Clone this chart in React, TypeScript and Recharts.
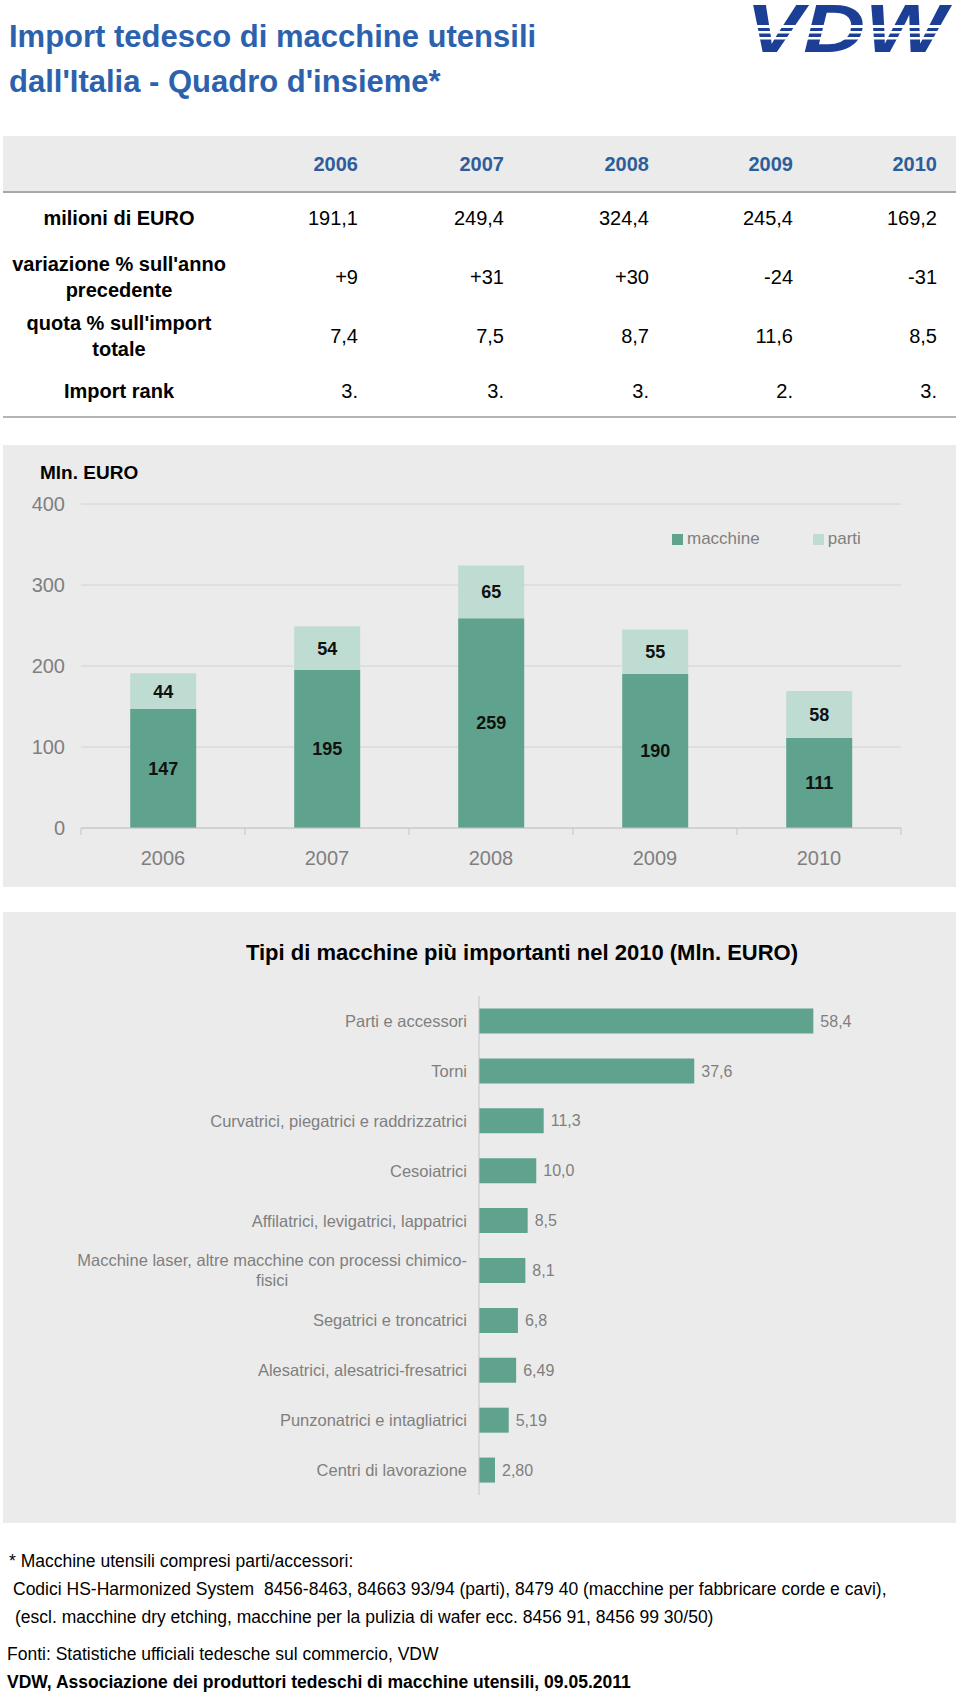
import React from 'react';
import { BarChart, Bar, XAxis, YAxis, CartesianGrid, LabelList, Legend } from 'recharts';

const FONT = "'Liberation Sans', Arial, Helvetica, sans-serif";

// tabella riassuntiva
const years = ['2006', '2007', '2008', '2009', '2010'];
const milioniEuro = ['191,1', '249,4', '324,4', '245,4', '169,2'];
const variazione = ['+9', '+31', '+30', '-24', '-31'];
const quota = ['7,4', '7,5', '8,7', '11,6', '8,5'];
const importRank = ['3.', '3.', '3.', '2.', '3.'];

// grafico a colonne (Mln. EURO)
const macchine = [147, 195, 259, 190, 111];
const parti = [44, 54, 65, 55, 58];
const yTicks = [0, 100, 200, 300, 400];

// tipi di macchine 2010
const tipi = [
  'Parti e accessori',
  'Torni',
  'Curvatrici, piegatrici e raddrizzatrici',
  'Cesoiatrici',
  'Affilatrici, levigatrici, lappatrici',
  'Macchine laser, altre macchine con processi chimico-fisici',
  'Segatrici e troncatrici',
  'Alesatrici, alesatrici-fresatrici',
  'Punzonatrici e intagliatrici',
  'Centri di lavorazione',
];
const tipiValori = [58.4, 37.6, 11.3, 10.0, 8.5, 8.1, 6.8, 6.49, 5.19, 2.8];
const tipiEtichette = ['58,4', '37,6', '11,3', '10,0', '8,5', '8,1', '6,8', '6,49', '5,19', '2,80'];

const colData = years.map((y, i) => ({ year: y, macchine: macchine[i], parti: parti[i] }));
const tipiData = tipi.map((t, i) => ({ name: t, value: tipiValori[i], label: tipiEtichette[i] }));

const GREEN = '#5fa38e';
const LIGHT = '#bfdcd2';
const PANEL = '#ebebeb';
const GREY_TXT = '#7f7f7f';

const colRight = [358, 504, 649, 793, 937];

let ctx: CanvasRenderingContext2D | null = null;
const measure = (s: string, font: string) => {
  if (!ctx) ctx = document.createElement('canvas').getContext('2d');
  if (!ctx) return s.length * 7.5;
  ctx.font = font;
  return ctx.measureText(s).width;
};

const CAT_FONT = 16.5;
const wrapLabel = (s: string, maxW: number) => {
  const parts = s.match(/[^\s-]+-?|\s+/g) || [s];
  const lines: string[] = [];
  let cur = '';
  parts.forEach((p) => {
    const test = cur + p;
    if (cur.trim() && measure(test.trim(), `${CAT_FONT}px ${FONT}`) > maxW) {
      lines.push(cur.trim());
      cur = p.trim() ? p : '';
    } else {
      cur = test;
    }
  });
  if (cur.trim()) lines.push(cur.trim());
  return lines;
};

const Txt = ({ x, y, w, align, size, bold, color, children }: any) => {
  const left = align === 'right' ? x - w : align === 'center' ? x - w / 2 : x;
  return (
    <div
      style={{
        position: 'absolute',
        left,
        top: y - size / 2,
        width: w,
        textAlign: align,
        fontSize: size,
        lineHeight: `${size}px`,
        fontWeight: bold ? 'bold' : 'normal',
        color: color || '#000',
        whiteSpace: 'nowrap',
      }}
    >
      {children}
    </div>
  );
};

const YearTick = (props: any) => {
  const { x, y, payload, index, visibleTicksCount, width } = props;
  const band = (width || 820) / (visibleTicksCount || 5);
  return (
    <g>
      <line x1={x - band / 2} x2={x - band / 2} y1={y} y2={y + 7} stroke="#c4c4c4" />
      {index === (visibleTicksCount || 5) - 1 && (
        <line x1={x + band / 2} x2={x + band / 2} y1={y} y2={y + 7} stroke="#c4c4c4" />
      )}
      <text x={x} y={y + 30} textAnchor="middle" dominantBaseline="central" fill={GREY_TXT} fontSize={20} fontFamily={FONT}>
        {payload.value}
      </text>
    </g>
  );
};

const CategoryTick = (props: any) => {
  const { x, y, payload } = props;
  const lines = wrapLabel(String(payload.value), 400);
  const maxW = Math.max(...lines.map((l) => measure(l, `${CAT_FONT}px ${FONT}`)));
  const lh = 20;
  const y0 = y - ((lines.length - 1) * lh) / 2;
  return (
    <g>
      {lines.map((l, i) => (
        <text
          key={i}
          x={x - maxW / 2}
          y={y0 + i * lh}
          textAnchor="middle"
          dominantBaseline="central"
          fill={GREY_TXT}
          fontSize={CAT_FONT}
          fontFamily={FONT}
        >
          {l}
        </text>
      ))}
    </g>
  );
};

const LegendBox = () => (
  <div style={{ display: 'flex', alignItems: 'center', fontFamily: FONT, fontSize: 17, color: GREY_TXT, lineHeight: '20px' }}>
    <span style={{ width: 11, height: 11, background: GREEN, display: 'inline-block', marginRight: 4 }} />
    <span>macchine</span>
    <span style={{ width: 11, height: 11, background: LIGHT, display: 'inline-block', marginLeft: 53, marginRight: 4 }} />
    <span>parti</span>
  </div>
);

const Logo = () => (
  <svg width={216} height={56} style={{ position: 'absolute', left: 740, top: 0, overflow: 'visible' }}>
    <text
      x={6}
      y={52}
      fontFamily={FONT}
      fontWeight="bold"
      fontStyle="italic"
      fontSize={69}
      textLength={200}
      lengthAdjust="spacingAndGlyphs"
      fill="#1c3f96"
    >
      VDW
    </text>
    <rect x={0} y={25} width={216} height={3} fill="#fff" />
    <rect x={0} y={31} width={216} height={2.5} fill="#fff" />
    <rect x={0} y={37} width={216} height={2.5} fill="#fff" />
  </svg>
);

export default function App() {
  const rows = [
    { label: ['milioni di EURO'], values: milioniEuro, y: 218 },
    { label: ["variazione % sull'anno", 'precedente'], values: variazione, y: 277 },
    { label: ["quota % sull'import", 'totale'], values: quota, y: 336 },
    { label: ['Import rank'], values: importRank, y: 391 },
  ];

  return (
    <div
      style={{
        position: 'absolute',
        left: 0,
        top: 0,
        width: 960,
        height: 1696,
        background: '#fff',
        overflow: 'hidden',
        fontFamily: FONT,
      }}
    >
      {/* intestazione */}
      <Txt x={9} y={36} w={700} align="left" size={31} bold color="#2c62ad">
        Import tedesco di macchine utensili
      </Txt>
      <Txt x={9} y={81} w={700} align="left" size={31} bold color="#2c62ad">
        dall'Italia - Quadro d'insieme*
      </Txt>
      <Logo />

      {/* tabella */}
      <div style={{ position: 'absolute', left: 3, top: 136, width: 953, height: 55, background: PANEL }} />
      <div style={{ position: 'absolute', left: 3, top: 191, width: 953, height: 2, background: '#a8a8a8' }} />
      <div style={{ position: 'absolute', left: 3, top: 416, width: 953, height: 2, background: '#b4b4b4' }} />
      {years.map((yr, i) => (
        <Txt key={yr} x={colRight[i]} y={164} w={100} align="right" size={20} bold color="#2e5d9c">
          {yr}
        </Txt>
      ))}
      {rows.map((r) => (
        <React.Fragment key={r.label[0]}>
          {r.label.map((l, j) => (
            <Txt
              key={l}
              x={119}
              y={r.y + (j - (r.label.length - 1) / 2) * 26}
              w={240}
              align="center"
              size={20}
              bold
            >
              {l}
            </Txt>
          ))}
          {r.values.map((v, i) => (
            <Txt key={i} x={colRight[i]} y={r.y} w={100} align="right" size={20}>
              {v}
            </Txt>
          ))}
        </React.Fragment>
      ))}

      {/* grafico a colonne */}
      <div style={{ position: 'absolute', left: 3, top: 445, width: 953, height: 442, background: PANEL }}>
        <div style={{ position: 'absolute', left: 0, top: 0 }}>
          <BarChart
            width={953}
            height={442}
            data={colData}
            margin={{ top: 59, right: 55, left: 0, bottom: 0 }}
            barCategoryGap="30%"
          >
            <CartesianGrid horizontal vertical={false} stroke="#d2d2d2" />
            <XAxis
              dataKey="year"
              height={59}
              axisLine={{ stroke: '#c4c4c4' }}
              tickLine={false}
              tickSize={0}
              tickMargin={0}
              tick={<YearTick />}
              interval={0}
            />
            <YAxis
              width={78}
              domain={[0, 400]}
              ticks={yTicks}
              axisLine={false}
              tickLine={false}
              tickSize={6}
              tickMargin={10}
              tick={{ fill: GREY_TXT, fontSize: 20, fontFamily: FONT }}
            />
            <Legend
              layout="horizontal"
              verticalAlign="middle"
              align="center"
              wrapperStyle={{ position: 'absolute', left: 669, top: 84, width: 240, height: 20 }}
              content={<LegendBox />}
            />
            <Bar dataKey="macchine" stackId="a" fill={GREEN} isAnimationActive={false}>
              <LabelList dataKey="macchine" position="center" fill="#111" fontSize={18} fontWeight="bold" fontFamily={FONT} />
            </Bar>
            <Bar dataKey="parti" stackId="a" fill={LIGHT} isAnimationActive={false}>
              <LabelList dataKey="parti" position="center" fill="#111" fontSize={18} fontWeight="bold" fontFamily={FONT} />
            </Bar>
          </BarChart>
        </div>
      </div>
      <Txt x={40} y={472} w={200} align="left" size={19} bold>
        Mln. EURO
      </Txt>

      {/* tipi di macchine */}
      <div style={{ position: 'absolute', left: 3, top: 912, width: 953, height: 611, background: PANEL }}>
        <div style={{ position: 'absolute', left: 0, top: 0 }}>
          <BarChart
            width={953}
            height={611}
            data={tipiData}
            layout="vertical"
            margin={{ top: 84, right: 19, left: 0, bottom: 28 }}
            barCategoryGap="25%"
          >
            <XAxis type="number" domain={[0, 80]} hide />
            <YAxis
              type="category"
              dataKey="name"
              width={476}
              axisLine={{ stroke: '#c4c4c4' }}
              tickLine={false}
              tickSize={6}
              tickMargin={6}
              interval={0}
              tick={<CategoryTick />}
            />
            <Bar dataKey="value" fill={GREEN} isAnimationActive={false}>
              <LabelList dataKey="label" position="right" offset={7} fill={GREY_TXT} fontSize={16} fontFamily={FONT} />
            </Bar>
          </BarChart>
        </div>
      </div>
      <Txt x={522} y={953} w={700} align="center" size={22} bold>
        Tipi di macchine più importanti nel 2010 (Mln. EURO)
      </Txt>

      {/* note */}
      <Txt x={9} y={1562} w={940} align="left" size={17.5}>
        * Macchine utensili compresi parti/accessori:
      </Txt>
      <Txt x={13} y={1590} w={940} align="left" size={17.5}>
        {'Codici HS-Harmonized System\u00a0 8456-8463, 84663 93/94 (parti), 8479 40 (macchine per fabbricare corde e cavi),'}
      </Txt>
      <Txt x={15} y={1618} w={940} align="left" size={17.5}>
        (escl. macchine dry etching, macchine per la pulizia di wafer ecc. 8456 91, 8456 99 30/50)
      </Txt>
      <Txt x={7} y={1655} w={940} align="left" size={17.5}>
        Fonti: Statistiche ufficiali tedesche sul commercio, VDW
      </Txt>
      <Txt x={7} y={1683} w={940} align="left" size={17.5} bold>
        VDW, Associazione dei produttori tedeschi di macchine utensili, 09.05.2011
      </Txt>
    </div>
  );
}
